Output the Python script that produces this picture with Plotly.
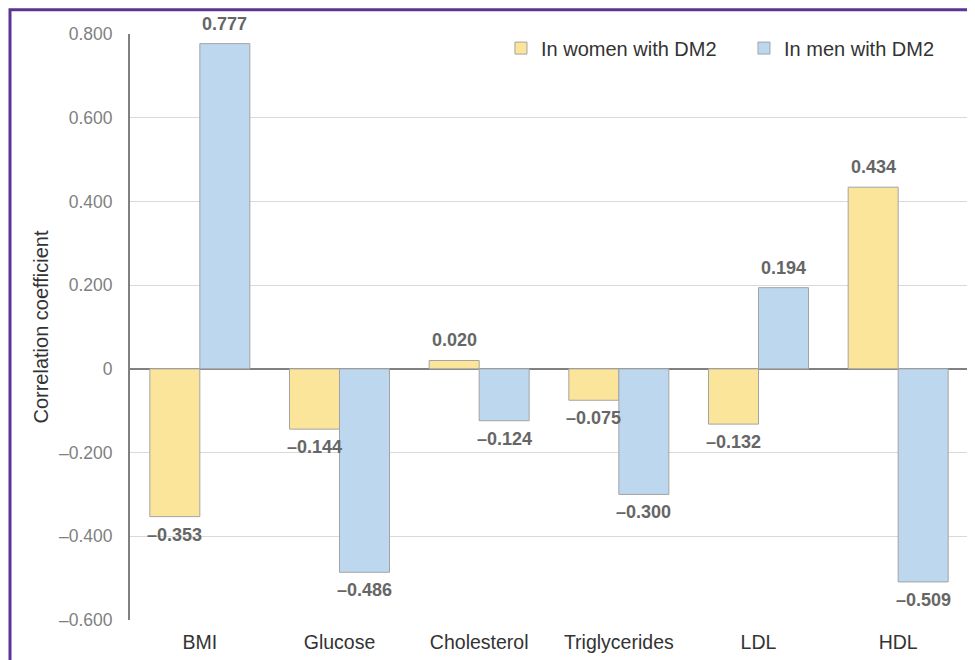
import plotly.graph_objects as go

categories = ["BMI", "Glucose", "Cholesterol", "Triglycerides", "LDL", "HDL"]
women = [-0.353, -0.144, 0.020, -0.075, -0.132, 0.434]
men = [0.777, -0.486, -0.124, -0.300, 0.194, -0.509]
series_names = ["In women with DM2", "In men with DM2"]
tick_vals = [-0.6, -0.4, -0.2, 0, 0.2, 0.4, 0.6, 0.8]
tick_text = ["\u20130.600", "\u20130.400", "\u20130.200", "0", "0.200", "0.400", "0.600", "0.800"]


def fmt(v):
    s = f"{abs(v):.3f}"
    return ("\u2013" + s) if v < 0 else s


FONT = "Liberation Sans, Arial, sans-serif"

fig = go.Figure()
series = [(series_names[0], women, "#fbe59b", -25), (series_names[1], men, "#bdd7ee", 25)]
for name, vals, color, _ in series:
    fig.add_trace(go.Bar(
        x=categories, y=vals, name=name,
        marker=dict(color=color, line=dict(color="#a3a3a3", width=1)),
        cliponaxis=False,
    ))

# value labels anchored to each bar's end (data coordinates)
for name, vals, color, dx in series:
    for cat, v in zip(categories, vals):
        fig.add_annotation(
            x=cat, y=v, xref="x", yref="y", text=fmt(v), showarrow=False,
            xshift=dx, yshift=20 if v >= 0 else -18, yanchor="middle",
            font=dict(family=FONT, size=18, color="#666666", weight="bold"),
        )

# outer purple frame
fig.add_shape(type="rect", xref="paper", yref="paper",
              x0=-0.1432, x1=1.3, y0=-0.5, y1=1.0415,
              line=dict(color="#5b3494", width=3), fillcolor="rgba(0,0,0,0)", layer="above")

fig.update_layout(
    width=967, height=652,
    margin=dict(l=122, r=7, t=26, b=40, autoexpand=False),
    paper_bgcolor="white", plot_bgcolor="white",
    barmode="group", bargap=0.284, bargroupgap=0,
    font=dict(family=FONT, size=19, color="#333333"),
    showlegend=True,
    legend=dict(orientation="h", x=0.4427, y=0.976, xanchor="left", yanchor="middle",
                font=dict(family=FONT, size=20, color="#333333"),
                bgcolor="rgba(0,0,0,0)", entrywidth=198, entrywidthmode="pixels"),
)
fig.update_xaxes(showgrid=False, showline=False, ticks="", automargin=False,
                 ticklabelstandoff=8,
                 tickfont=dict(family=FONT, size=19.5, color="#333333"))
fig.update_yaxes(range=[-0.6, 0.8], tickvals=tick_vals, ticktext=tick_text,
                 automargin=False,
                 showgrid=True, gridcolor="#d9d9d9", gridwidth=1,
                 zeroline=True, zerolinecolor="#808080", zerolinewidth=2,
                 showline=True, linecolor="#808080", linewidth=2,
                 ticks="", ticklabelstandoff=12,
                 tickfont=dict(family=FONT, size=17.5, color="#7f7f7f"),
                 title=dict(text="Correlation coefficient", standoff=5,
                            font=dict(family=FONT, size=20, color="#333333")))

fig.write_html("out.html")
